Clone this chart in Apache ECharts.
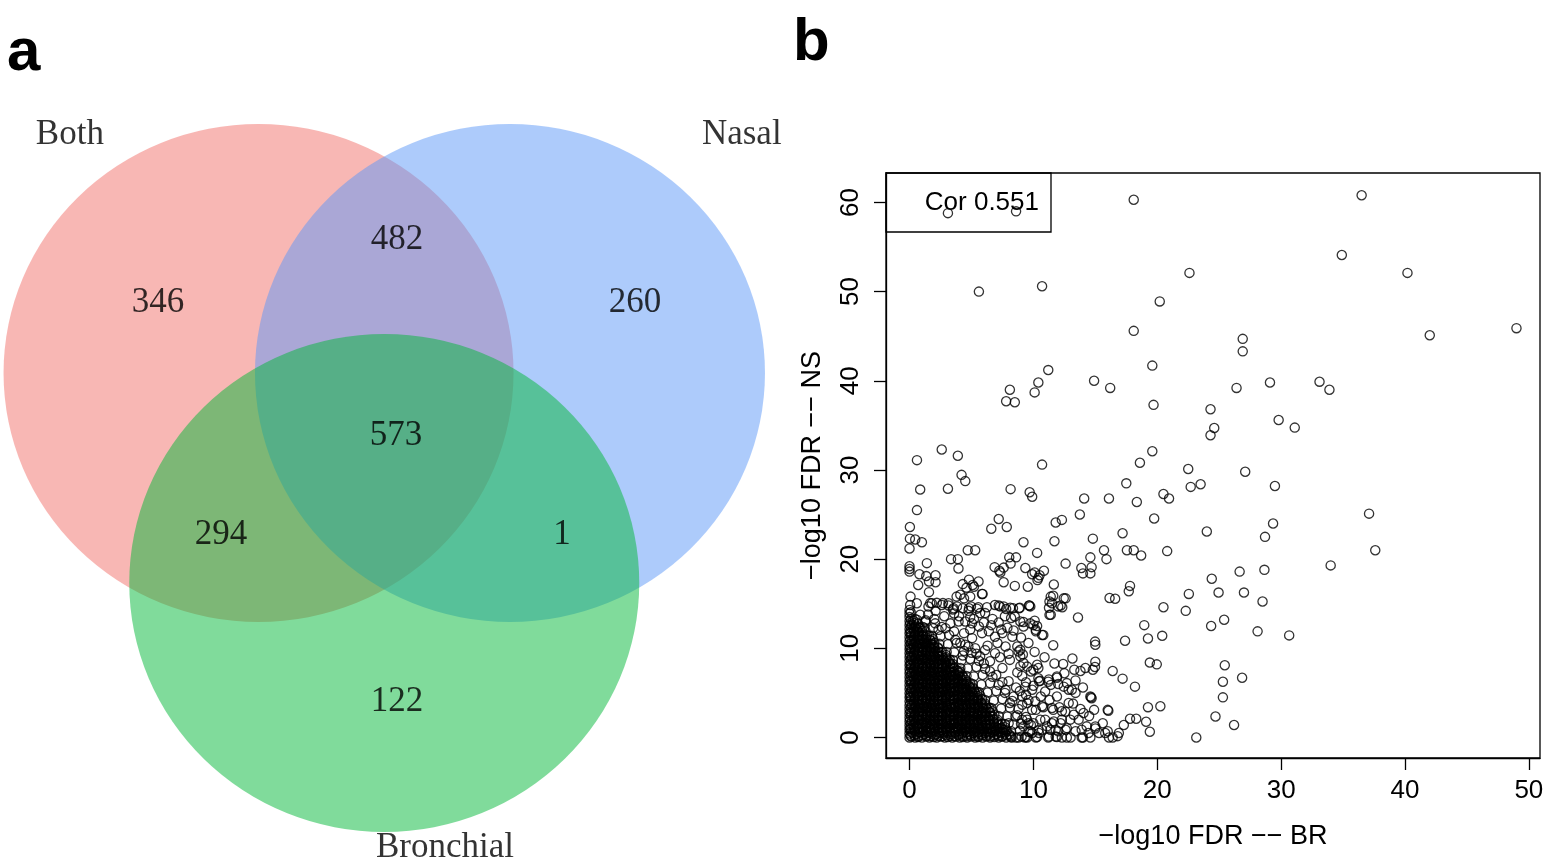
<!DOCTYPE html>
<html>
<head>
<meta charset="utf-8">
<title>Venn diagram and FDR correlation</title>
<script src="https://cdn.jsdelivr.net/npm/echarts@6.0.0/dist/echarts.min.js"></script>
<style>
  html, body { margin: 0; padding: 0; background: #ffffff; }
  #chart { width: 1547px; height: 864px; }
</style>
</head>
<body>
<div id="chart"></div>
<script>
// ---------- panel a: Venn diagram ----------
const vennNames = ['Both', 'Nasal', 'Bronchial'];
const vennRegions = ['Both only', 'Both & Nasal', 'Nasal only', 'All three', 'Both & Bronchial', 'Nasal & Bronchial', 'Bronchial only'];
const vennCounts = [346, 482, 260, 573, 294, 1, 122];

// ---------- panel b: -log10 FDR, bronchial (x) vs nasal (y) ----------
const xTickLabels = [0, 10, 20, 30, 40, 50];
const yTickLabels = [0, 10, 20, 30, 40, 50, 60];
const corText = 'Cor 0.551';

// genes with strong signal in at least one tissue
const sparsePoints = [
  [3.1,58.8],[8.6,59.0],[18.1,60.3],[22.6,52.1],[5.6,50.0],[10.7,50.6],[20.2,48.9],[18.1,45.6],[19.6,41.7],
  [11.2,41.2],[10.4,39.8],[10.1,38.7],[8.1,39.0],[7.8,37.7],[8.5,37.6],[14.9,40.0],[16.2,39.2],[19.7,37.3],
  [24.3,36.8],[24.3,33.9],[0.6,31.1],[2.6,32.3],[3.9,31.6],[10.7,30.6],[18.6,30.8],[19.6,32.1],[22.5,30.1],
  [36.5,60.8],[34.9,54.1],[40.2,52.1],[49.0,45.9],[42.0,45.1],[26.9,44.7],[26.9,43.3],[26.4,39.2],[29.1,39.8],
  [33.1,39.9],[33.9,39.0],[24.6,34.7],[29.8,35.6],[31.1,34.75],[27.1,29.8],
  [29.5,28.2],[23.5,28.4],[37.1,25.1],[29.35,24.0],[24.0,23.1],[28.7,22.5],[37.6,21.0],[34.0,19.3],[26.65,18.6],
  [28.65,18.8],[24.4,17.8],[24.95,16.25],[27.0,16.25],[28.5,15.25],[24.35,12.5],[25.4,13.2],[28.1,11.9],[30.65,11.45],
  [25.45,8.1],[26.85,6.7],[25.3,6.25],[25.3,4.5],[24.7,2.35],[26.2,1.4],[23.15,0],
  [17.5,28.5],[16.1,26.8],[14.1,26.8],[18.35,26.4],[20.5,27.3],[20.95,26.8],[22.7,28.1],[4.2,29.45],[4.5,28.75],
  [0.86,27.8],[3.1,27.9],[8.16,27.85],[9.7,27.5],[9.9,27.0],[0.6,25.5],[0.03,23.6],[7.2,24.5],[7.85,23.6],[6.6,23.4],
  [11.8,24.1],[12.3,24.4],[13.75,25.0],[19.75,24.55],[17.2,22.9],[0.03,22.3],[0.46,22.2],[1.0,21.9],[0,21.2],
  [14.8,22.3],[11.7,22.0],[9.2,21.9],[15.7,21.0],[15.9,20.0],[17.55,21.0],[18.1,21.0],[18.7,20.4],[20.8,20.9],
  [4.7,21.0],[5.3,21.0],[10.3,20.7],[3.35,20.0],[3.9,20.0],[8.05,20.2],[8.6,20.2],[14.6,20.2],[1.4,19.55],
  [0,19.2],[0,18.9],[0,18.6],[8.16,19.5],[12.6,19.5],[3.95,18.95],[6.87,19.1],[7.25,18.7],[7.6,19.05],[7.33,18.5],
  [9.35,19.0],[10.85,18.7],[13.87,19.0],[14.0,18.4],[14.6,18.4],[14.7,19.1],[9.9,18.3],[10.1,18.5],[10.4,17.9],
  [10.5,18.2],[0.8,18.3],[1.35,18.1],[2.1,18.2],[2.1,17.4],[0.7,17.1],[1.57,17.5],[1.57,16.3],[4.3,17.2],[4.6,16.8],
  [5.57,17.5],[5.9,16.1],[7.6,17.4],[8.5,17.0],[9.55,16.9],[11.65,17.15],[17.8,17.0],[17.7,16.4],[22.55,16.1],
  [0.08,15.8],[11.6,15.9],[12.6,15.6],[12.2,14.8],[12.33,14.6],[16.15,15.65],[16.6,15.55],[11.3,15.25],[20.5,14.6],
  [22.3,14.2],[11.3,13.75],[13.6,13.45],[18.95,12.6],[19.25,11.1],[20.4,11.4],[17.4,10.85],[14.98,10.75],[15.0,10.4],
  [19.4,8.4],[19.96,8.2],[16.4,7.45],[17.2,6.6],[18.2,5.7],[15.0,8.5],[14.97,7.9],[14.2,7.8],[13.3,7.6],[13.8,7.45],
  [13.15,8.85],[14.6,4.6],[14.7,4.4],[14.65,4.5],[16.0,3.1],[16.05,3.0],[19.25,3.4],[20.25,3.5],[19.4,0.65],
  [19.1,1.76],[17.8,2.1],[18.3,2.1],[17.3,1.4],[16.9,0.5],[16.1,0],[16.4,0],[16.0,0.7],[15.0,1.0],[14.45,0.5],
  [13.9,0],[14.0,0]
];

// moderately significant genes around the dense cluster
const fringePoints = [
  [5.1,17.1],[5.2,16.9],[4.8,17.7],[4.1,16.0],[4.9,15.8],[10.33,17.65],[11.26,14.55],[9.65,14.8],[8.84,14.5],
  [8.13,14.55],[7.8,14.4],[7.3,14.7],[4.96,14.7],[5.55,14.6],[6.25,14.6],
  [1.67,15.07],[2.2,15.1],[2.7,15.07],[3.15,14.8],[3.5,14.35],[3.83,14.7],[4.3,14.5],[4.77,14.2],[5.44,14.45],
  [5.7,13.95],[7.2,14.8],[8.35,14.5],[8.9,14.55],[8.2,13.4],[9.2,12.95],[9.67,14.8],[10.1,13.1],[10.3,12.5],
  [0.05,14.86],[0.59,15.06],[1.53,14.69],[1.8,15.06],[2.6,14.86],[3.15,15.06],[3.55,14.5],[3.8,15.8],[4.4,15.6],
  [4.8,14.5],[5.85,16.1],[6.1,13.95],[6.9,14.86],[7.6,14.7],[8.5,13.57],[9.75,14.7],[10.0,12.6],[10.2,12.07],
  [10.7,11.5],[11.4,15.8],[11.5,15.06],[12.0,14.7],[12.45,15.6],[11.4,13.76],
  [0.86,13.76],[1.27,13.0],[2.07,12.8],[2.34,12.07],[2.9,12.26],[3.3,12.8],[3.96,13.0],[4.5,13.0],[5.05,12.8],
  [5.6,12.45],[4.4,11.7],[5.05,11.14],[5.85,11.7],[6.4,11.9],[6.9,11.3],[7.5,11.7],[8.3,11.3],[8.7,10.2],[8.8,9.65],
  [7.75,10.2],[6.9,9.45],[6.1,9.8],[5.7,9.1],[5.3,10.0],[4.75,10.2],[4.1,10.6],[3.7,10.95],[6.5,8.55],[7.5,7.8],
  [8.1,8.7],[8.95,8.0],[9.1,6.9],[9.8,7.4],[10.45,6.3],[11.25,6.5],[11.9,6.7],[12.45,5.7],[13.1,5.35],[9.9,5.35],
  [9.35,5.7],
  [7.75,5.35],[8.4,4.6],[8.1,3.86],[9.1,3.67],[9.6,4.2],[10.2,3.1],[10.7,3.5],[11.5,3.3],[12.3,2.95],[12.85,3.86],
  [10.95,2.0],[11.5,1.6],[12.2,1.6],[12.6,0.86],[11.8,0.86],[10.7,0.86],[9.9,0.5],[9.6,1.6],[9.1,2.0],[8.55,2.36],
  [8.0,1.6],[7.75,0.86],[11.25,0.1],[11.8,0.1],[12.3,0],[13.0,0],[10.2,0],[9.5,0],[8.8,0],[8.25,0],
  [8.94,13.0],[9.2,12.45],[9.75,12.8],[10.8,11.5],[10.2,11.9],[11.6,10.35],[8.94,9.83],[8.94,9.1],[9.2,8.35],
  [10.3,8.15],[14.8,7.6],[12.4,8.25],[10.4,7.8],[10.0,7.6],[9.5,7.95],[9.15,9.3],[11.9,6.85],[11.2,6.25],[11.4,5.9],
  [12.0,6.0],[12.7,6.1],[12.85,5.35],[13.4,5.0],[10.95,5.15],[10.4,6.65],[10.55,6.35],[9.1,4.6],[9.5,3.85],[9.9,3.1],
  [10.15,4.05],[10.8,3.4],[11.6,3.1],[12.1,3.4],[12.58,2.9],[13.25,2.55],[12.98,2.0],[12.3,2.0],[11.65,1.8],
  [11.1,1.25],[10.56,2.0],[10.0,1.6],[9.5,2.0],[9.2,1.25],[9.75,0.7],[10.45,0.5],[11.37,0.87],[12.0,0.7],[12.7,1.05],
  [13.4,0.7],[13.9,0.87],[14.3,1.25],[13.65,2.0],[14.05,2.75],[15.3,0.5],[15.0,1.24],[15.8,0.5],[16.8,0.15],
  [9.3,0],[10.3,0.05],[11.2,0],[11.9,0.05],[12.7,0],[14.6,0],
  [8.2,0.7],[8.9,0.75],[9.6,0.65],[10.4,0.8],[7.7,1.5],[8.4,1.45],[9.0,1.55],[9.8,1.4],
  [7.2,2.4],[7.9,2.35],[8.7,2.5],[9.4,2.3],[6.6,3.3],[7.4,3.25],[8.1,3.35],[8.8,3.2],
  [6.1,4.2],[6.8,4.15],[7.5,4.3],[8.3,4.1],[5.6,5.1],[6.3,5.05],[7.0,5.2],[7.7,5.0],
  [5.1,6.0],[5.8,5.95],[6.5,6.1],[7.2,5.9],[4.6,6.9],[5.2,6.85],[5.9,7.0],[6.7,6.8],
  [4.1,7.8],[4.7,7.75],[5.4,7.9],[6.1,7.7],[3.5,8.7],[4.2,8.65],[4.9,8.8],[5.6,8.6],
  [3.0,9.6],[3.6,9.55],[4.4,9.7],[5.0,9.5],[2.4,10.5],[3.1,10.45],[3.8,10.6],[4.5,10.4],
  [1.8,11.4],[2.5,11.35],[3.2,11.5],[1.2,12.3],[1.9,12.25],[2.6,12.4],[0.6,13.2],[1.3,13.15],[2.0,13.3],
  [4.3,9.2],[5.4,9.4],[6.3,10.3],[7.1,10.6],[6.6,12.6],[7.2,12.9],[7.9,12.3],[3.6,11.9],[4.9,12.1],[2.8,13.6],
  [3.6,13.9],[4.9,13.5],[6.7,13.3],[7.7,13.6],[8.0,9.4],[7.3,9.0],[6.0,8.3],[7.0,7.0],[8.0,6.3],[8.6,5.6],
  [7.5,6.2],[6.5,7.4],[8.7,7.3],[9.4,6.2],[10.0,5.8],[10.6,4.6],[11.3,4.2],[11.9,4.6],[9.4,4.8],[8.9,5.2],
  [1.5,13.8],[2.1,14.2],[4.0,13.6],[5.2,13.3],[6.0,12.9],[7.4,12.1],[8.4,12.0],[9.0,11.2],[9.6,10.6],[10.1,9.6],
  [10.9,9.0],[11.7,8.3],[12.5,7.2],[13.4,6.4],[14.0,5.6],[13.2,3.8],[13.8,3.2],[14.5,2.4],[15.6,1.6],[14.9,3.1]
];

// bulk of genes with weak signal in both tissues
const densePoints = [
  [0,0],[0.15,0.1],[0.45,0],[0.7,0.05],[1.0,0],[1.35,0.1],[1.6,0],[1.95,0.05],[2.2,0],[2.5,0.1],[2.85,0],[3.1,0.05],
  [3.45,0],[3.75,0.1],[4.05,0],[4.3,0.05],[4.65,0],[4.95,0.1],[5.3,0],[5.55,0.05],[5.9,0],[6.2,0.1],[6.5,0],[6.85,0.05],
  [7.2,0],[7.45,0.1],[7.8,0],[8.2,0.05],[8.6,0],[9.05,0.1],[9.4,0.05],
  [0,0.45],[0.25,0.5],[0.55,0.4],[0.9,0.55],[1.2,0.4],[1.5,0.5],[1.8,0.45],[2.15,0.35],[2.4,0.5],[2.75,0.45],[3.05,0.55],
  [3.35,0.4],[3.7,0.5],[3.95,0.35],[4.25,0.45],[4.55,0.55],[4.85,0.4],[5.15,0.5],[5.45,0.45],[5.75,0.35],[6.05,0.5],
  [6.4,0.45],[6.7,0.55],[7.0,0.4],[7.35,0.5],[7.7,0.45],[8.05,0.35],
  [0,0.9],[0.1,0.95],[0.4,0.85],[0.75,1.0],[1.1,0.9],[1.35,0.8],[1.7,0.95],[2.0,0.9],[2.3,1.0],[2.6,0.85],[2.95,0.9],
  [3.25,1.0],[3.55,0.8],[3.9,0.95],[4.15,0.9],[4.5,0.85],[4.8,1.0],[5.1,0.9],[5.35,0.8],[5.7,0.95],[6.0,0.9],[6.3,1.0],
  [6.6,0.85],[6.95,0.9],[7.3,1.0],[7.6,0.85],
  [0,1.35],[0.3,1.4],[0.6,1.3],[0.95,1.45],[1.25,1.35],[1.55,1.25],[1.85,1.4],[2.2,1.35],[2.5,1.45],[2.8,1.3],[3.1,1.35],
  [3.4,1.45],[3.75,1.25],[4.05,1.4],[4.35,1.35],[4.65,1.3],[4.95,1.45],[5.25,1.35],[5.6,1.25],[5.9,1.4],[6.2,1.35],
  [6.55,1.45],[6.85,1.3],[7.25,1.35],
  [0,1.8],[0.2,1.85],[0.5,1.75],[0.8,1.9],[1.15,1.8],[1.45,1.7],[1.75,1.85],[2.05,1.8],[2.35,1.9],[2.65,1.75],[3.0,1.8],
  [3.3,1.9],[3.6,1.7],[3.9,1.85],[4.2,1.8],[4.55,1.75],[4.85,1.9],[5.15,1.8],[5.45,1.7],[5.8,1.85],[6.1,1.8],[6.45,1.9],
  [6.8,1.75],[7.05,1.8],
  [0,2.25],[0.35,2.3],[0.65,2.2],[1.0,2.35],[1.3,2.25],[1.6,2.15],[1.95,2.3],[2.25,2.25],[2.55,2.35],[2.9,2.2],[3.2,2.25],
  [3.5,2.35],[3.8,2.15],[4.1,2.3],[4.45,2.25],[4.75,2.2],[5.05,2.35],[5.35,2.25],[5.7,2.15],[6.0,2.3],[6.35,2.25],[6.7,2.35],
  [0,2.7],[0.15,2.75],[0.45,2.65],[0.8,2.8],[1.1,2.7],[1.4,2.6],[1.7,2.75],[2.05,2.7],[2.35,2.8],[2.65,2.65],[3.0,2.7],
  [3.3,2.8],[3.6,2.6],[3.95,2.75],[4.25,2.7],[4.55,2.65],[4.9,2.8],[5.2,2.7],[5.5,2.6],[5.85,2.75],[6.15,2.7],[6.5,2.8],
  [0,3.15],[0.3,3.2],[0.6,3.1],[0.9,3.25],[1.25,3.15],[1.55,3.05],[1.85,3.2],[2.2,3.15],[2.5,3.25],[2.8,3.1],[3.1,3.15],
  [3.45,3.25],[3.75,3.05],[4.05,3.2],[4.35,3.15],[4.7,3.1],[5.0,3.25],[5.3,3.15],[5.65,3.05],[5.95,3.2],[6.3,3.15],
  [0,3.6],[0.2,3.65],[0.5,3.55],[0.85,3.7],[1.15,3.6],[1.45,3.5],[1.8,3.65],[2.1,3.6],[2.4,3.7],[2.7,3.55],[3.05,3.6],
  [3.35,3.7],[3.65,3.5],[4.0,3.65],[4.3,3.6],[4.6,3.55],[4.95,3.7],[5.25,3.6],[5.55,3.5],[5.9,3.65],[6.15,3.6],
  [0,4.05],[0.35,4.1],[0.7,4.0],[1.0,4.15],[1.3,4.05],[1.65,3.95],[1.95,4.1],[2.25,4.05],[2.6,4.15],[2.9,4.0],[3.2,4.05],
  [3.5,4.15],[3.85,3.95],[4.15,4.1],[4.45,4.05],[4.8,4.0],[5.1,4.15],[5.4,4.05],[5.75,3.95],
  [0,4.5],[0.1,4.55],[0.45,4.45],[0.75,4.6],[1.05,4.5],[1.4,4.4],[1.7,4.55],[2.0,4.5],[2.35,4.6],[2.65,4.45],[2.95,4.5],
  [3.3,4.6],[3.6,4.4],[3.9,4.55],[4.25,4.5],[4.55,4.45],[4.85,4.6],[5.2,4.5],[5.5,4.4],
  [0,4.95],[0.3,5.0],[0.6,4.9],[0.95,5.05],[1.25,4.95],[1.55,4.85],[1.9,5.0],[2.2,4.95],[2.5,5.05],[2.85,4.9],[3.15,4.95],
  [3.45,5.05],[3.8,4.85],[4.1,5.0],[4.4,4.95],[4.75,4.9],[5.05,5.05],[5.3,4.95],
  [0,5.4],[0.2,5.45],[0.5,5.35],[0.8,5.5],[1.15,5.4],[1.45,5.3],[1.75,5.45],[2.1,5.4],[2.4,5.5],[2.7,5.35],[3.05,5.4],
  [3.35,5.5],[3.65,5.3],[4.0,5.45],[4.3,5.4],[4.6,5.35],[4.95,5.5],[5.2,5.4],
  [0,5.85],[0.35,5.9],[0.65,5.8],[1.0,5.95],[1.3,5.85],[1.6,5.75],[1.95,5.9],[2.25,5.85],[2.55,5.95],[2.9,5.8],[3.2,5.85],
  [3.5,5.95],[3.85,5.75],[4.15,5.9],[4.45,5.85],[4.8,5.8],
  [0,6.3],[0.15,6.35],[0.45,6.25],[0.8,6.4],[1.1,6.3],[1.4,6.2],[1.75,6.35],[2.05,6.3],[2.35,6.4],[2.7,6.25],[3.0,6.3],
  [3.3,6.4],[3.65,6.2],[3.95,6.35],[4.25,6.3],[4.6,6.25],
  [0,6.75],[0.3,6.8],[0.6,6.7],[0.9,6.85],[1.25,6.75],[1.55,6.65],[1.85,6.8],[2.2,6.75],[2.5,6.85],[2.8,6.7],[3.15,6.75],
  [3.45,6.85],[3.75,6.65],[4.1,6.8],[4.35,6.75],
  [0,7.2],[0.2,7.25],[0.5,7.15],[0.85,7.3],[1.15,7.2],[1.45,7.1],[1.8,7.25],[2.1,7.2],[2.4,7.3],[2.75,7.15],[3.05,7.2],
  [3.35,7.3],[3.7,7.1],[4.0,7.25],
  [0,7.65],[0.35,7.7],[0.7,7.6],[1.0,7.75],[1.3,7.65],[1.65,7.55],[1.95,7.7],[2.25,7.65],[2.6,7.75],[2.9,7.6],[3.2,7.65],
  [3.55,7.75],[3.8,7.55],
  [0,8.1],[0.1,8.15],[0.45,8.05],[0.75,8.2],[1.05,8.1],[1.4,8.0],[1.7,8.15],[2.0,8.1],[2.35,8.2],[2.65,8.05],[2.95,8.1],
  [3.3,8.2],[3.5,8.0],
  [0,8.55],[0.3,8.6],[0.6,8.5],[0.95,8.65],[1.25,8.55],[1.55,8.45],[1.9,8.6],[2.2,8.55],[2.5,8.65],[2.85,8.5],[3.15,8.55],
  [0,9.0],[0.2,9.05],[0.5,8.95],[0.8,9.1],[1.15,9.0],[1.45,8.9],[1.75,9.05],[2.1,9.0],[2.4,9.1],[2.7,8.95],[2.95,9.0],
  [0,9.45],[0.35,9.5],[0.65,9.4],[1.0,9.55],[1.3,9.45],[1.6,9.35],[1.95,9.5],[2.25,9.45],[2.55,9.55],
  [0,9.9],[0.15,9.95],[0.45,9.85],[0.8,10.0],[1.1,9.9],[1.4,9.8],[1.75,9.95],[2.05,9.9],[2.3,10.0],
  [0,10.35],[0.3,10.4],[0.6,10.3],[0.9,10.45],[1.25,10.35],[1.55,10.25],[1.85,10.4],[2.0,10.35],
  [0,10.8],[0.2,10.85],[0.5,10.75],[0.85,10.9],[1.15,10.8],[1.45,10.7],[1.7,10.85],
  [0,11.25],[0.35,11.3],[0.7,11.2],[1.0,11.35],[1.3,11.25],
  [0,11.7],[0.1,11.75],[0.45,11.65],[0.75,11.8],[1.05,11.7],
  [0,12.15],[0.3,12.2],[0.6,12.1],[0.85,12.25],
  [0,12.6],[0.2,12.65],[0.5,12.55],
  [0,13.05],[0.3,13.1],
  [0,13.5],[0,13.9],[0,14.3],[0.1,14.05]
];

// more weak-signal genes packed between the rows above
const denseInterleaved = [
  [0.08,0.2],[0.4,0.25],[0.72,0.15],[1.05,0.25],[1.37,0.2],[1.7,0.15],[2.02,0.25],[2.33,0.2],[2.66,0.15],[2.98,0.25],
  [3.3,0.2],[3.62,0.15],[3.95,0.25],[4.27,0.2],[4.6,0.15],[4.92,0.25],[5.23,0.2],[5.56,0.15],[5.88,0.25],[6.2,0.2],
  [6.52,0.15],[6.85,0.25],[7.17,0.2],[7.5,0.15],[7.82,0.25],[8.15,0.2],
  [0.12,0.65],[0.43,0.7],[0.76,0.6],[1.08,0.7],[1.4,0.65],[1.73,0.6],[2.05,0.7],[2.37,0.65],[2.7,0.6],[3.02,0.7],
  [3.33,0.65],[3.66,0.6],[3.98,0.7],[4.3,0.65],[4.63,0.6],[4.95,0.7],[5.27,0.65],[5.6,0.6],[5.92,0.7],[6.24,0.65],
  [6.56,0.6],[6.88,0.7],[7.2,0.65],[7.53,0.6],[7.85,0.7],
  [0.06,1.1],[0.38,1.15],[0.7,1.05],[1.02,1.15],[1.34,1.1],[1.66,1.05],[1.98,1.15],[2.3,1.1],[2.62,1.05],[2.94,1.15],
  [3.26,1.1],[3.58,1.05],[3.9,1.15],[4.22,1.1],[4.54,1.05],[4.86,1.15],[5.18,1.1],[5.5,1.05],[5.82,1.15],[6.14,1.1],
  [6.46,1.05],[6.78,1.15],[7.1,1.1],[7.42,1.05],[7.7,1.15],
  [0.1,1.55],[0.42,1.6],[0.74,1.5],[1.06,1.6],[1.38,1.55],[1.7,1.5],[2.02,1.6],[2.34,1.55],[2.66,1.5],[2.98,1.6],
  [3.3,1.55],[3.62,1.5],[3.94,1.6],[4.26,1.55],[4.58,1.5],[4.9,1.6],[5.22,1.55],[5.54,1.5],[5.86,1.6],[6.18,1.55],
  [6.5,1.5],[6.82,1.6],[7.14,1.55],[7.45,1.5],
  [0.05,2.0],[0.37,2.05],[0.69,1.95],[1.01,2.05],[1.33,2.0],[1.65,1.95],[1.97,2.05],[2.29,2.0],[2.61,1.95],[2.93,2.05],
  [3.25,2.0],[3.57,1.95],[3.89,2.05],[4.21,2.0],[4.53,1.95],[4.85,2.05],[5.17,2.0],[5.49,1.95],[5.81,2.05],[6.13,2.0],
  [6.45,1.95],[6.77,2.05],[7.1,2.0],
  [0.11,2.45],[0.43,2.5],[0.75,2.4],[1.07,2.5],[1.39,2.45],[1.71,2.4],[2.03,2.5],[2.35,2.45],[2.67,2.4],[2.99,2.5],
  [3.31,2.45],[3.63,2.4],[3.95,2.5],[4.27,2.45],[4.59,2.4],[4.91,2.5],[5.23,2.45],[5.55,2.4],[5.87,2.5],[6.19,2.45],
  [6.51,2.4],[6.85,2.5],
  [0.07,2.9],[0.39,2.95],[0.71,2.85],[1.03,2.95],[1.35,2.9],[1.67,2.85],[1.99,2.95],[2.31,2.9],[2.63,2.85],[2.95,2.95],
  [3.27,2.9],[3.59,2.85],[3.91,2.95],[4.23,2.9],[4.55,2.85],[4.87,2.95],[5.19,2.9],[5.51,2.85],[5.83,2.95],[6.15,2.9],
  [6.47,2.85],[6.7,2.95],
  [0.12,3.35],[0.44,3.4],[0.76,3.3],[1.08,3.4],[1.4,3.35],[1.72,3.3],[2.04,3.4],[2.36,3.35],[2.68,3.3],[3.0,3.4],
  [3.32,3.35],[3.64,3.3],[3.96,3.4],[4.28,3.35],[4.6,3.3],[4.92,3.4],[5.24,3.35],[5.56,3.3],[5.88,3.4],[6.2,3.35],[6.45,3.3],
  [0.06,3.8],[0.38,3.85],[0.7,3.75],[1.02,3.85],[1.34,3.8],[1.66,3.75],[1.98,3.85],[2.3,3.8],[2.62,3.75],[2.94,3.85],
  [3.26,3.8],[3.58,3.75],[3.9,3.85],[4.22,3.8],[4.54,3.75],[4.86,3.85],[5.18,3.8],[5.5,3.75],[5.82,3.85],[6.1,3.8],
  [0.1,4.25],[0.42,4.3],[0.74,4.2],[1.06,4.3],[1.38,4.25],[1.7,4.2],[2.02,4.3],[2.34,4.25],[2.66,4.2],[2.98,4.3],
  [3.3,4.25],[3.62,4.2],[3.94,4.3],[4.26,4.25],[4.58,4.2],[4.9,4.3],[5.22,4.25],[5.54,4.2],[5.86,4.3],
  [0.05,4.7],[0.37,4.75],[0.69,4.65],[1.01,4.75],[1.33,4.7],[1.65,4.65],[1.97,4.75],[2.29,4.7],[2.61,4.65],[2.93,4.75],
  [3.25,4.7],[3.57,4.65],[3.89,4.75],[4.21,4.7],[4.53,4.65],[4.85,4.75],[5.17,4.7],[5.49,4.65],[5.7,4.75],
  [0.11,5.15],[0.43,5.2],[0.75,5.1],[1.07,5.2],[1.39,5.15],[1.71,5.1],[2.03,5.2],[2.35,5.15],[2.67,5.1],[2.99,5.2],
  [3.31,5.15],[3.63,5.1],[3.95,5.2],[4.27,5.15],[4.59,5.1],[4.91,5.2],[5.23,5.15],[5.45,5.1],
  [0.07,5.6],[0.39,5.65],[0.71,5.55],[1.03,5.65],[1.35,5.6],[1.67,5.55],[1.99,5.65],[2.31,5.6],[2.63,5.55],[2.95,5.65],
  [3.27,5.6],[3.59,5.55],[3.91,5.65],[4.23,5.6],[4.55,5.55],[4.87,5.65],[5.1,5.6],
  [0.12,6.05],[0.44,6.1],[0.76,6.0],[1.08,6.1],[1.4,6.05],[1.72,6.0],[2.04,6.1],[2.36,6.05],[2.68,6.0],[3.0,6.1],
  [3.32,6.05],[3.64,6.0],[3.96,6.1],[4.28,6.05],[4.6,6.0],[4.9,6.1],
  [0.06,6.5],[0.38,6.55],[0.7,6.45],[1.02,6.55],[1.34,6.5],[1.66,6.45],[1.98,6.55],[2.3,6.5],[2.62,6.45],[2.94,6.55],
  [3.26,6.5],[3.58,6.45],[3.9,6.55],[4.22,6.5],[4.55,6.45],
  [0.1,6.95],[0.42,7.0],[0.74,6.9],[1.06,7.0],[1.38,6.95],[1.7,6.9],[2.02,7.0],[2.34,6.95],[2.66,6.9],[2.98,7.0],
  [3.3,6.95],[3.62,6.9],[3.94,7.0],[4.26,6.95],
  [0.05,7.4],[0.37,7.45],[0.69,7.35],[1.01,7.45],[1.33,7.4],[1.65,7.35],[1.97,7.45],[2.29,7.4],[2.61,7.35],[2.93,7.45],
  [3.25,7.4],[3.57,7.35],[3.89,7.45],[4.1,7.4],
  [0.11,7.85],[0.43,7.9],[0.75,7.8],[1.07,7.9],[1.39,7.85],[1.71,7.8],[2.03,7.9],[2.35,7.85],[2.67,7.8],[2.99,7.9],
  [3.31,7.85],[3.63,7.8],
  [0.07,8.3],[0.39,8.35],[0.71,8.25],[1.03,8.35],[1.35,8.3],[1.67,8.25],[1.99,8.35],[2.31,8.3],[2.63,8.25],[2.95,8.35],
  [3.27,8.3],[3.5,8.25],
  [0.12,8.75],[0.44,8.8],[0.76,8.7],[1.08,8.8],[1.4,8.75],[1.72,8.7],[2.04,8.8],[2.36,8.75],[2.68,8.7],[3.0,8.8],[3.25,8.75],
  [0.06,9.2],[0.38,9.25],[0.7,9.15],[1.02,9.25],[1.34,9.2],[1.66,9.15],[1.98,9.25],[2.3,9.2],[2.62,9.15],[2.95,9.25],
  [0.1,9.65],[0.42,9.7],[0.74,9.6],[1.06,9.7],[1.38,9.65],[1.7,9.6],[2.02,9.7],[2.34,9.65],[2.65,9.6],
  [0.05,10.1],[0.37,10.15],[0.69,10.05],[1.01,10.15],[1.33,10.1],[1.65,10.05],[1.97,10.15],[2.3,10.1],
  [0.11,10.55],[0.43,10.6],[0.75,10.5],[1.07,10.6],[1.39,10.55],[1.71,10.5],[2.0,10.6],
  [0.07,11.0],[0.39,11.05],[0.71,10.95],[1.03,11.05],[1.35,11.0],[1.67,10.95],[1.9,11.05],
  [0.12,11.45],[0.44,11.5],[0.76,11.4],[1.08,11.5],[1.4,11.45],[1.6,11.4],
  [0.06,11.9],[0.38,11.95],[0.7,11.85],[1.02,11.95],[1.3,11.9],
  [0.1,12.35],[0.42,12.4],[0.74,12.3],[1.06,12.4],
  [0.05,12.8],[0.37,12.85],[0.69,12.75],
  [0.11,13.25],[0.43,13.3]
];

// ---------- layout ----------
// Venn geometry in circle-radius units (circle radius = 1)
const vennCircleCenters = [[-0.493, 0.4217], [0.493, 0.4217], [0.0, -0.4217]];
const vennFill = ['#F16F69', '#5B97F7', '#01B737'];
const vennRegionLabelPos = [[-0.887, 0.703], [0.05, 0.956], [0.983, 0.703], [0.046, 0.169], [-0.64, -0.229], [0.697, -0.229], [0.05, -0.9]];
const vennNameLabelPos = [[-1.233, 1.378], [1.402, 1.378], [0.238, -1.486]];

const serif = '"Liberation Serif", "DejaVu Serif", serif';
const sans = '"Liberation Sans", Arial, Helvetica, sans-serif';

const chart = echarts.init(document.getElementById('chart'), null, { renderer: 'canvas' });

const regionLabels = vennCounts.map((c, i) => ({ name: String(c), region: vennRegions[i], value: vennRegionLabelPos[i] }));
const setLabels = vennNames.map((n, i) => ({ name: n, value: vennNameLabelPos[i] }));

const axisTextStyle = { fontFamily: sans, fontSize: 26, color: '#000' };

const option = {
  backgroundColor: '#ffffff',
  animation: false,
  graphic: [
    { type: 'text', left: 7, top: 23, style: { text: 'a', font: 'bold 60px ' + sans, fill: '#000' } },
    { type: 'text', left: 793, top: 13, style: { text: 'b', font: 'bold 60px ' + sans, fill: '#000' } },
    { type: 'rect', shape: { x: 886, y: 173, width: 165, height: 59 }, style: { fill: 'none', stroke: '#000', lineWidth: 1.3 }, z: 10 },
    { type: 'text', x: 1039, y: 203, style: { text: corText, font: '26px ' + sans, fill: '#000', align: 'right', verticalAlign: 'middle' }, z: 10 }
  ],
  grid: [
    { left: 0, top: 0, width: 770, height: 864, show: false },
    { left: 886, top: 173, width: 654, height: 585, show: true, borderColor: '#000', borderWidth: 1.3, backgroundColor: 'transparent' }
  ],
  xAxis: [
    { gridIndex: 0, type: 'value', min: -1.5069, max: 1.5127, show: false },
    {
      gridIndex: 1, type: 'value', min: -1.9, max: 50.9,
      name: '\u2212log10 FDR \u2212\u2212 BR', nameLocation: 'middle', nameGap: 65,
      nameTextStyle: { fontFamily: sans, fontSize: 27, color: '#000' },
      axisLine: { show: true, onZero: false, lineStyle: { color: '#000', width: 1.3 } },
      axisTick: { show: true, length: 12, lineStyle: { color: '#000', width: 1.3 }, customValues: xTickLabels },
      axisLabel: Object.assign({ show: true, margin: 20, customValues: xTickLabels }, axisTextStyle),
      splitLine: { show: false }
    }
  ],
  yAxis: [
    { gridIndex: 0, type: 'value', min: -1.5502, max: 1.9197, show: false },
    {
      gridIndex: 1, type: 'value', min: -2.3, max: 63.3,
      name: '\u2212log10 FDR \u2212\u2212 NS', nameLocation: 'middle', nameGap: 60, nameRotate: 90,
      nameTextStyle: { fontFamily: sans, fontSize: 27, color: '#000' },
      axisLine: { show: true, onZero: false, lineStyle: { color: '#000', width: 1.3 } },
      axisTick: { show: true, length: 12, lineStyle: { color: '#000', width: 1.3 }, customValues: yTickLabels },
      axisLabel: Object.assign({ show: true, margin: 22, rotate: 90, customValues: yTickLabels }, axisTextStyle),
      splitLine: { show: false }
    }
  ],
  series: [
    {
      // the three set circles
      type: 'custom',
      xAxisIndex: 0, yAxisIndex: 0,
      silent: true,
      data: vennCircleCenters.map((c, i) => ({ name: vennNames[i], value: c })),
      renderItem: function (params, api) {
        const c = api.coord([api.value(0), api.value(1)]);
        const s = api.size([1, 1]);
        return {
          type: 'circle',
          x: c[0], y: c[1],
          scaleX: s[0] / s[1],
          shape: { cx: 0, cy: 0, r: s[1] },
          style: { fill: vennFill[params.dataIndex], opacity: 0.5 }
        };
      },
      z: 1
    },
    {
      // region counts
      type: 'scatter',
      xAxisIndex: 0, yAxisIndex: 0,
      silent: true,
      symbolSize: 0,
      data: regionLabels,
      label: { show: true, position: 'inside', formatter: '{b}', fontFamily: serif, fontSize: 35, color: '#000' },
      z: 5
    },
    {
      // set names
      type: 'scatter',
      xAxisIndex: 0, yAxisIndex: 0,
      silent: true,
      symbolSize: 0,
      data: setLabels,
      label: { show: true, position: 'inside', formatter: '{b}', fontFamily: serif, fontSize: 35, color: '#000' },
      z: 5
    },
    {
      type: 'scatter',
      xAxisIndex: 1, yAxisIndex: 1,
      silent: true,
      clip: false,
      large: false,
      progressive: 0,
      symbol: 'circle',
      symbolSize: 9.2,
      itemStyle: { color: 'rgba(0,0,0,0)', borderColor: '#000', borderWidth: 1.3 },
      data: densePoints.concat(denseInterleaved, fringePoints, sparsePoints),
      z: 3
    }
  ]
};

chart.setOption(option);
</script>
</body>
</html>
